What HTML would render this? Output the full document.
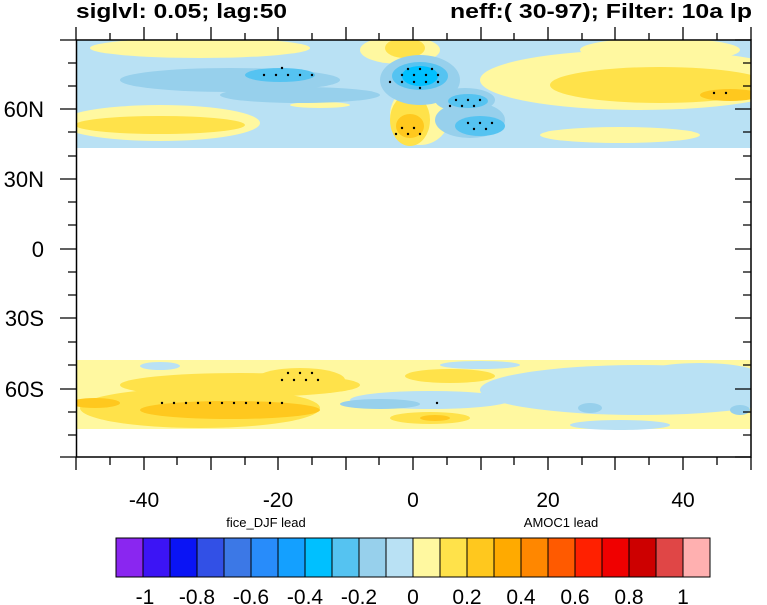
<!DOCTYPE html>
<html><head><meta charset="utf-8"><style>body{margin:0;background:#fff}svg{display:block}</style></head><body>
<svg width="767" height="605" viewBox="0 0 767 605" xmlns="http://www.w3.org/2000/svg" font-family="Liberation Sans, sans-serif">
<defs><clipPath id="c"><rect x="76" y="40" width="675" height="417"/></clipPath></defs>
<g clip-path="url(#c)">
<rect x="76" y="40" width="675" height="108" fill="#b9e1f4"/>
<g fill="#fff8a0">
<ellipse cx="200" cy="48" rx="110" ry="10"/>
<ellipse cx="400" cy="50" rx="40" ry="14"/>
<ellipse cx="640" cy="80" rx="160" ry="30"/>
<ellipse cx="660" cy="50" rx="80" ry="12"/>
<ellipse cx="160" cy="123" rx="100" ry="18"/>
<ellipse cx="620" cy="135" rx="80" ry="8"/>
<ellipse cx="320" cy="105" rx="30" ry="3"/>
<ellipse cx="420" cy="115" rx="30" ry="30"/>
</g>
<g fill="#ffe24a">
<ellipse cx="405" cy="48" rx="20" ry="10"/>
<ellipse cx="660" cy="85" rx="110" ry="18"/>
<ellipse cx="160" cy="125" rx="85" ry="9"/>
<ellipse cx="410" cy="120" rx="20" ry="26"/>
</g>
<g fill="#ffc81e">
<ellipse cx="410" cy="126" rx="14" ry="12"/>
<ellipse cx="730" cy="95" rx="30" ry="6"/>
</g>
<g fill="#97d0ec">
<ellipse cx="230" cy="80" rx="110" ry="12"/>
<ellipse cx="420" cy="80" rx="40" ry="25"/>
<ellipse cx="470" cy="120" rx="35" ry="18"/>
<ellipse cx="465" cy="100" rx="30" ry="12"/>
<ellipse cx="300" cy="95" rx="80" ry="8"/>
</g>
<g fill="#55c3f1">
<ellipse cx="280" cy="75" rx="35" ry="7"/>
<ellipse cx="420" cy="76" rx="28" ry="14"/>
<ellipse cx="468" cy="101" rx="20" ry="7"/>
<ellipse cx="480" cy="126" rx="25" ry="10"/>
</g>
<ellipse cx="420" cy="76" rx="18" ry="10" fill="#00c0ff"/>
<rect x="76" y="360" width="675" height="69" fill="#fff8a0"/>
<g fill="#b9e1f4">
<ellipse cx="640" cy="390" rx="160" ry="25"/>
<ellipse cx="700" cy="375" rx="60" ry="12"/>
<ellipse cx="430" cy="400" rx="80" ry="9"/>
<ellipse cx="160" cy="366" rx="20" ry="4"/>
<ellipse cx="480" cy="365" rx="40" ry="4"/>
<ellipse cx="620" cy="425" rx="50" ry="5"/>
</g>
<g fill="#97d0ec">
<ellipse cx="380" cy="404" rx="40" ry="5"/>
<ellipse cx="590" cy="408" rx="12" ry="5"/>
<ellipse cx="740" cy="410" rx="10" ry="5"/>
</g>
<g fill="#ffe24a">
<ellipse cx="200" cy="408" rx="120" ry="20"/>
<ellipse cx="240" cy="385" rx="120" ry="12"/>
<ellipse cx="300" cy="380" rx="45" ry="12"/>
<ellipse cx="450" cy="376" rx="45" ry="7"/>
<ellipse cx="430" cy="418" rx="40" ry="6"/>
</g>
<g fill="#ffc81e">
<ellipse cx="230" cy="410" rx="90" ry="9"/>
<ellipse cx="95" cy="403" rx="25" ry="5"/>
<ellipse cx="435" cy="418" rx="15" ry="3"/>
</g>
</g>
<g fill="#000">
<circle cx="264" cy="75" r="1.2"/><circle cx="276" cy="75" r="1.2"/><circle cx="288" cy="75" r="1.2"/><circle cx="300" cy="75" r="1.2"/><circle cx="312" cy="75" r="1.2"/><circle cx="282" cy="68" r="1.2"/>
<circle cx="408" cy="69" r="1.2"/><circle cx="420" cy="69" r="1.2"/><circle cx="432" cy="69" r="1.2"/>
<circle cx="402" cy="75" r="1.2"/><circle cx="414" cy="75" r="1.2"/><circle cx="426" cy="75" r="1.2"/><circle cx="438" cy="75" r="1.2"/>
<circle cx="390" cy="82" r="1.2"/><circle cx="402" cy="82" r="1.2"/><circle cx="414" cy="82" r="1.2"/><circle cx="426" cy="82" r="1.2"/><circle cx="438" cy="82" r="1.2"/><circle cx="420" cy="88" r="1.2"/>
<circle cx="456" cy="100" r="1.2"/><circle cx="468" cy="100" r="1.2"/><circle cx="480" cy="100" r="1.2"/><circle cx="450" cy="106" r="1.2"/><circle cx="462" cy="106" r="1.2"/><circle cx="474" cy="106" r="1.2"/>
<circle cx="468" cy="123" r="1.2"/><circle cx="480" cy="123" r="1.2"/><circle cx="492" cy="123" r="1.2"/><circle cx="474" cy="129" r="1.2"/><circle cx="486" cy="129" r="1.2"/>
<circle cx="402" cy="128" r="1.2"/><circle cx="414" cy="128" r="1.2"/><circle cx="396" cy="134" r="1.2"/><circle cx="408" cy="134" r="1.2"/><circle cx="420" cy="134" r="1.2"/>
<circle cx="714" cy="93" r="1.2"/><circle cx="726" cy="93" r="1.2"/>
<circle cx="288" cy="373" r="1.2"/><circle cx="300" cy="373" r="1.2"/><circle cx="312" cy="373" r="1.2"/><circle cx="282" cy="380" r="1.2"/><circle cx="294" cy="380" r="1.2"/><circle cx="306" cy="380" r="1.2"/><circle cx="318" cy="380" r="1.2"/>
<circle cx="162" cy="403" r="1.2"/><circle cx="174" cy="403" r="1.2"/><circle cx="186" cy="403" r="1.2"/><circle cx="198" cy="403" r="1.2"/><circle cx="210" cy="403" r="1.2"/><circle cx="222" cy="403" r="1.2"/><circle cx="234" cy="403" r="1.2"/><circle cx="246" cy="403" r="1.2"/><circle cx="258" cy="403" r="1.2"/><circle cx="270" cy="403" r="1.2"/><circle cx="282" cy="403" r="1.2"/>
<circle cx="437" cy="403" r="1.2"/>
</g>
<rect x="76.5" y="40" width="674.5" height="417" fill="none" stroke="#000" stroke-width="1.5"/>
<g stroke="#000" stroke-width="1.3">
<path d="M76,457v13M110,457v8M144,457v13M177,457v8M211,457v13M245,457v8M278,457v13M312,457v8M346,457v13M379,457v8M413,457v13M447,457v8M481,457v13M514,457v8M548,457v13M582,457v8M615,457v13M649,457v8M683,457v13M717,457v8M751,457v13"/>
<path d="M76,40v-13M110,40v-7M144,40v-13M177,40v-7M211,40v-13M245,40v-7M278,40v-13M312,40v-7M346,40v-13M379,40v-7M413,40v-13M447,40v-7M481,40v-13M514,40v-7M548,40v-13M582,40v-7M615,40v-13M649,40v-7M683,40v-13M717,40v-7M751,40v-13"/>
<path d="M76,40h-16M76,63h-8M76,86h-8M76,109h-16M76,132h-8M76,156h-8M76,179h-16M76,202h-8M76,225h-8M76,249h-16M76,272h-8M76,295h-8M76,318h-16M76,342h-8M76,365h-8M76,389h-16M76,412h-8M76,435h-8M76,457h-16"/>
<path d="M751,40h-16M751,63h-8M751,86h-8M751,109h-16M751,132h-8M751,156h-8M751,179h-16M751,202h-8M751,225h-8M751,249h-16M751,272h-8M751,295h-8M751,318h-16M751,342h-8M751,365h-8M751,389h-16M751,412h-8M751,435h-8M751,457h-16"/>
</g>
<g font-size="22" text-anchor="end">
<text x="44" y="117">60N</text><text x="44" y="187">30N</text><text x="44" y="257">0</text><text x="44" y="326">30S</text><text x="44" y="397">60S</text>
</g>
<g font-size="21" text-anchor="middle">
<text x="144" y="507">-40</text><text x="278" y="507">-20</text><text x="413" y="507">0</text><text x="548" y="507">20</text><text x="683" y="507">40</text>
</g>
<text x="76" y="18" font-size="20" font-weight="bold" textLength="211" lengthAdjust="spacingAndGlyphs">siglvl: 0.05; lag:50</text>
<text x="450" y="18" font-size="20" font-weight="bold" textLength="302" lengthAdjust="spacingAndGlyphs">neff:( 30-97); Filter: 10a lp</text>
<text x="266" y="527" font-size="13" text-anchor="middle">fice_DJF lead</text>
<text x="561" y="527" font-size="13" text-anchor="middle">AMOC1 lead</text>
<g stroke="#000" stroke-width="1">
<rect x="116" y="538" width="27" height="39" fill="#8a26f0"/>
<rect x="143" y="538" width="27" height="39" fill="#3c14f5"/>
<rect x="170" y="538" width="27" height="39" fill="#0a14f5"/>
<rect x="197" y="538" width="27" height="39" fill="#3250e6"/>
<rect x="224" y="538" width="27" height="39" fill="#3c78e6"/>
<rect x="251" y="538" width="27" height="39" fill="#288cfa"/>
<rect x="278" y="538" width="27" height="39" fill="#14a0ff"/>
<rect x="305" y="538" width="27" height="39" fill="#00c0ff"/>
<rect x="332" y="538" width="27" height="39" fill="#55c3f1"/>
<rect x="359" y="538" width="27" height="39" fill="#97d0ec"/>
<rect x="386" y="538" width="27" height="39" fill="#b9e1f4"/>
<rect x="413" y="538" width="27" height="39" fill="#fff8a0"/>
<rect x="440" y="538" width="27" height="39" fill="#ffe24a"/>
<rect x="467" y="538" width="27" height="39" fill="#ffc81e"/>
<rect x="494" y="538" width="27" height="39" fill="#ffaa00"/>
<rect x="521" y="538" width="27" height="39" fill="#ff8700"/>
<rect x="548" y="538" width="27" height="39" fill="#ff5a00"/>
<rect x="575" y="538" width="27" height="39" fill="#ff2000"/>
<rect x="602" y="538" width="27" height="39" fill="#f00000"/>
<rect x="629" y="538" width="27" height="39" fill="#cd0000"/>
<rect x="656" y="538" width="27" height="39" fill="#e04646"/>
<rect x="683" y="538" width="27" height="39" fill="#ffb0b0"/>
</g>
<g font-size="21" text-anchor="middle">
<text x="145" y="604">-1</text><text x="197" y="604">-0.8</text><text x="251" y="604">-0.6</text><text x="305" y="604">-0.4</text><text x="359" y="604">-0.2</text><text x="413" y="604">0</text><text x="467" y="604">0.2</text><text x="521" y="604">0.4</text><text x="575" y="604">0.6</text><text x="629" y="604">0.8</text><text x="683" y="604">1</text>
</g>
</svg>
</body></html>
